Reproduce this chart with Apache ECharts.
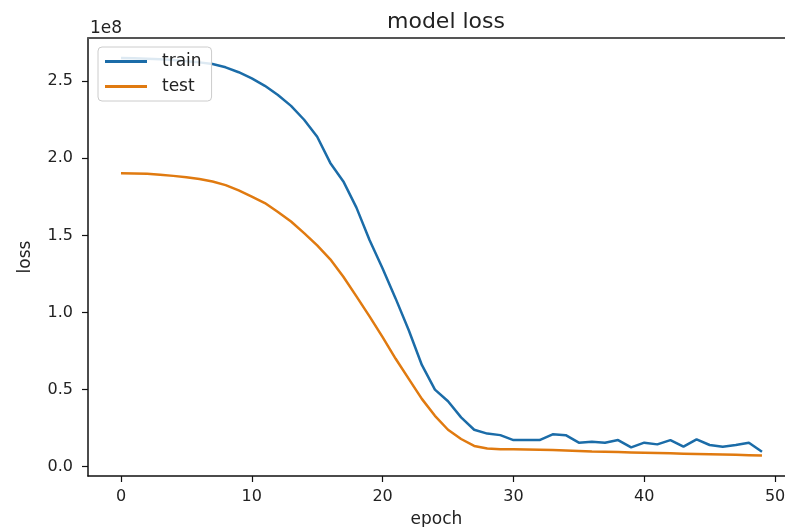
<!DOCTYPE html>
<html>
<head>
<meta charset="utf-8">
<title>model loss</title>
<script src="https://cdn.jsdelivr.net/npm/echarts@6/dist/echarts.min.js"></script>
<style>
  html, body { margin: 0; padding: 0; background: #fff; }
  #chart { width: 785px; height: 527px; }
</style>
</head>
<body>
<div id="chart"></div>
<script>
// Loss per epoch, in units of 1e8
const epochs = Array.from({ length: 50 }, (_, i) => i);
const trainLoss = [
  2.650, 2.649, 2.646, 2.642, 2.637, 2.630, 2.622, 2.611, 2.590, 2.558,
  2.518, 2.470, 2.410, 2.340, 2.250, 2.140, 1.970, 1.850, 1.680, 1.470,
  1.285, 1.090, 0.885, 0.660, 0.500, 0.425, 0.320, 0.240, 0.215, 0.205,
  0.173, 0.173, 0.173, 0.210, 0.205, 0.156, 0.162, 0.156, 0.173, 0.126,
  0.156, 0.145, 0.173, 0.130, 0.178, 0.141, 0.130, 0.141, 0.156, 0.097
];
const testLoss = [
  1.903, 1.902, 1.899, 1.894, 1.886, 1.877, 1.866, 1.850, 1.826, 1.792,
  1.752, 1.710, 1.652, 1.590, 1.515, 1.435, 1.345, 1.232, 1.105, 0.975,
  0.840, 0.700, 0.570, 0.440, 0.330, 0.240, 0.180, 0.135, 0.118, 0.113,
  0.113, 0.112, 0.110, 0.108, 0.105, 0.102, 0.099, 0.097, 0.095, 0.093,
  0.091, 0.089, 0.087, 0.085, 0.083, 0.081, 0.079, 0.077, 0.075, 0.073
];
const xTicks = [0, 10, 20, 30, 40, 50];
const yTicks = [0, 0.5, 1.0, 1.5, 2.0, 2.5];

const FONT = 'DejaVu Sans';
const TRAIN_COLOR = '#1b6ca8';
const TEST_COLOR = '#e07a10';

const chart = echarts.init(document.getElementById('chart'), null, { renderer: 'canvas' });

const xRange = { min: -2.52, max: 50.76 };

chart.setOption({
  animation: false,
  backgroundColor: '#ffffff',
  textStyle: { fontFamily: FONT },
  title: [
    {
      text: 'model loss',
      left: 441,
      top: 6,
      textAlign: 'center',
      textStyle: { fontFamily: FONT, fontSize: 22, fontWeight: 'normal', color: '#222' }
    },
    {
      text: '1e8',
      left: 90,
      top: 20,
      padding: 0,
      textStyle: { fontFamily: FONT, fontSize: 17, fontWeight: 'normal', color: '#222' }
    }
  ],
  legend: {
    orient: 'vertical',
    left: 98,
    top: 47,
    padding: [6, 10, 6, 7],
    itemGap: 8,
    itemWidth: 42,
    itemHeight: 3,
    icon: 'rect',
    backgroundColor: 'rgba(255,255,255,0.85)',
    borderColor: '#cccccc',
    borderWidth: 1,
    borderRadius: 4,
    textStyle: { fontFamily: FONT, fontSize: 17, color: '#222', padding: [0, 0, 0, 10] },
    data: ['train', 'test']
  },
  grid: { left: 88, top: 38, right: 0, bottom: 51, containLabel: false, outerBoundsMode: 'none' },
  xAxis: [
    {
      type: 'value',
      min: xRange.min,
      max: xRange.max,
      name: 'epoch',
      nameLocation: 'middle',
      nameGap: 35,
      nameTextStyle: { fontFamily: FONT, fontSize: 17, color: '#222' },
      axisLine: { show: true, onZero: false, lineStyle: { color: '#111', width: 1.5 } },
      axisTick: { show: true, length: 6, lineStyle: { color: '#111', width: 1.2 }, customValues: xTicks },
      axisLabel: { fontFamily: FONT, fontSize: 16, color: '#222', margin: 13, customValues: xTicks },
      splitLine: { show: false }
    },
    {
      type: 'value',
      position: 'top',
      min: xRange.min,
      max: xRange.max,
      axisLine: { show: true, onZero: false, lineStyle: { color: '#555', width: 2 } },
      axisTick: { show: false },
      axisLabel: { show: false },
      splitLine: { show: false }
    }
  ],
  yAxis: {
    type: 'value',
    min: -0.06,
    max: 2.78,
    name: 'loss',
    nameLocation: 'middle',
    nameGap: 54,
    nameTextStyle: { fontFamily: FONT, fontSize: 17, color: '#222' },
    axisLine: { show: true, onZero: false, lineStyle: { color: '#111', width: 1.5 } },
    axisTick: { show: true, length: 6, lineStyle: { color: '#111', width: 1.2 }, customValues: yTicks },
    axisLabel: {
      fontFamily: FONT, fontSize: 16, color: '#222', margin: 15,
      customValues: yTicks,
      formatter: v => v.toFixed(1)
    },
    splitLine: { show: false }
  },
  series: [
    {
      name: 'train',
      type: 'line',
      xAxisIndex: 0,
      data: epochs.map((e, i) => [e, trainLoss[i]]),
      showSymbol: false,
      symbol: 'none',
      color: TRAIN_COLOR,
      lineStyle: { color: TRAIN_COLOR, width: 2.5 },
      z: 3
    },
    {
      name: 'test',
      type: 'line',
      xAxisIndex: 0,
      data: epochs.map((e, i) => [e, testLoss[i]]),
      showSymbol: false,
      symbol: 'none',
      color: TEST_COLOR,
      lineStyle: { color: TEST_COLOR, width: 2.5 },
      z: 2
    }
  ]
});
</script>
</body>
</html>
